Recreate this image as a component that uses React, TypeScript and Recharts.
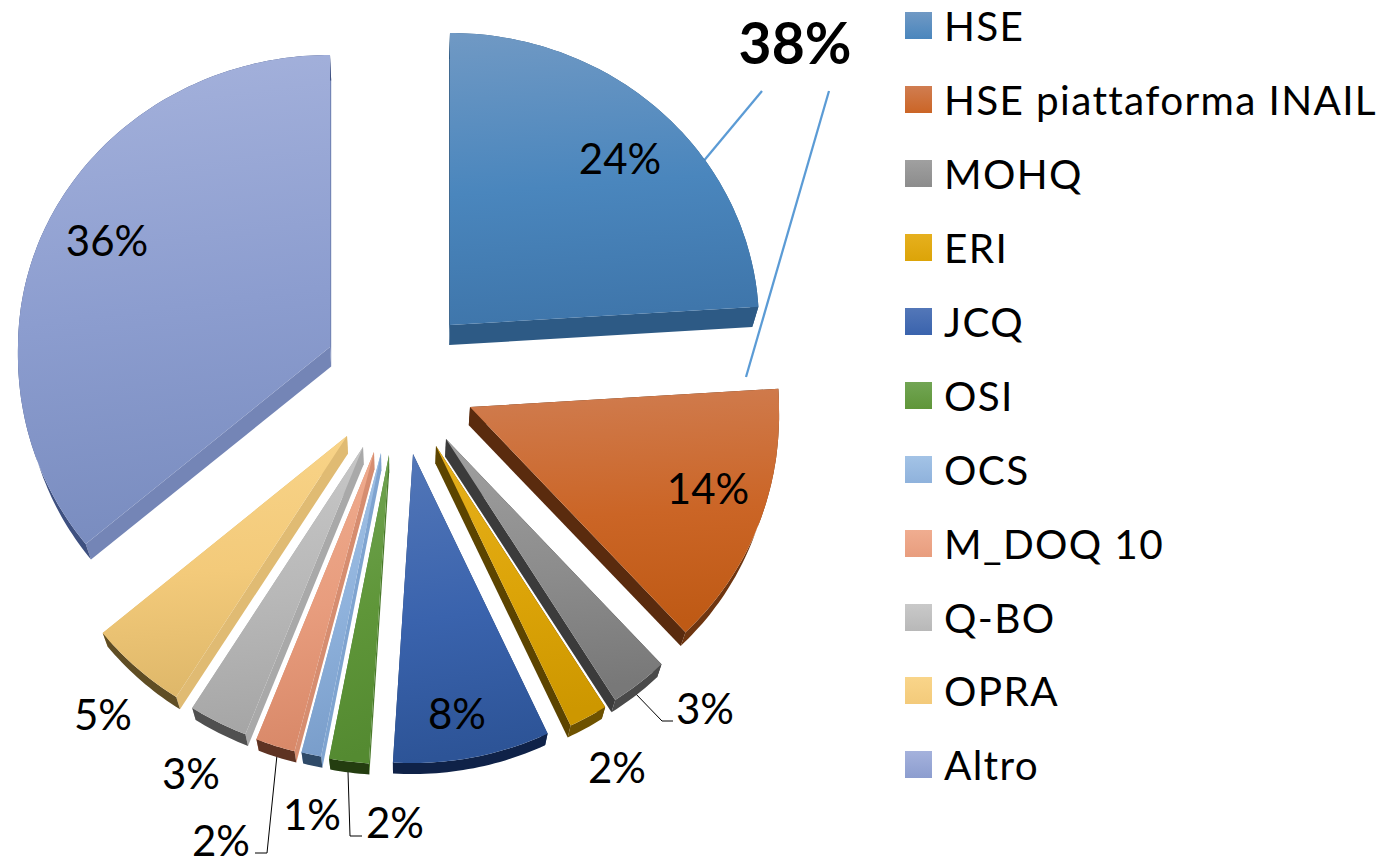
import { Legend, Pie, PieChart } from "recharts";

const names = [
  "HSE",
  "HSE piattaforma INAIL",
  "MOHQ",
  "ERI",
  "JCQ",
  "OSI",
  "OCS",
  "M_DOQ 10",
  "Q-BO",
  "OPRA",
  "Altro",
];
const shares = [24, 14, 3, 2, 8, 2, 1, 2, 3, 5, 36];

// face top, face mid, face bottom, start wall, end wall, arc wall
const palette = [
  ["#7099c4", "#4a86bd", "#3f76ab", "#2d5a85", "#2d5a85", "#2d5a85"],
  ["#d07d51", "#cb6526", "#bf5a15", "#5a2b0e", "#5a2b0e", "#6e3510"],
  ["#a0a0a0", "#8c8c8c", "#787878", "#3b3b3b", "#3b3b3b", "#4a4a4a"],
  ["#e6b01e", "#dca408", "#cd9700", "#5c4400", "#5c4400", "#6e5200"],
  ["#5377b8", "#3a63ad", "#2d5497", "#1f3d70", "#1f3d70", "#0f2248"],
  ["#72a554", "#5f9639", "#548a31", "#4a7a2b", "#4a7a2b", "#243d10"],
  ["#a3c3e6", "#8fb2dc", "#7a9ecb", "#7fa4d0", "#7fa4d0", "#2f4a68"],
  ["#f0ad90", "#e89d7e", "#d98969", "#d68d70", "#d68d70", "#5e3323"],
  ["#c9c9c9", "#b8b8b8", "#a6a6a6", "#a9a9a9", "#a9a9a9", "#505050"],
  ["#f9d58a", "#f3ca7a", "#dfb86a", "#e0bb73", "#e0bb73", "#5f4d24"],
  ["#a5b2dc", "#8c9dcf", "#7a8dc0", "#7485b6", "#7485b6", "#3e5080"],
];

// how far each slice is pulled out of the pie centre
const CX = 393;
const CY = 378;
const explode = [
  [57, -53],
  [77, 29],
  [53, 61],
  [43, 68],
  [20, 76],
  [-4, 77],
  [-12, 75],
  [-19, 74],
  [-30, 69],
  [-46, 58],
  [-63, -31],
];

const labelSpots = [
  [620, 158],
  [708, 488],
  [705, 708],
  [617, 767],
  [457, 713],
  [395, 822],
  [312, 814],
  [221, 840],
  [191, 773],
  [103, 714],
  [107, 240],
];

const leaders = [
  "634,692 662,721 673,721",
  "277,755 267,853 255,853",
  "348,772 350,836 362,836",
];

const FONT = "Lato, 'Open Sans', sans-serif";
const RX = 312;
const RY_BACK = 292;
const RY_FRONT = 309;

// the picture has some perspective: the near half of the pie is a bit bigger
function rim(angle: number) {
  const rad = (angle * Math.PI) / 180;
  const s = Math.sin(rad);
  const c = Math.cos(rad);
  const rx = (c > 0 ? 309 : RX) + 8 * Math.max(0, -s);
  return [rx * c, -s * (s > 0 ? RY_BACK : RY_FRONT)];
}

// the underside of the slab, nearer edges look thinner
function drop(p: number[]) {
  return [p[0] + (400 - p[0]) * 0.017, p[1] + 20 - (p[1] - 325) * 0.0205];
}

function toPath(points: number[][]) {
  return "M" + points.map((p) => `${p[0].toFixed(1)},${p[1].toFixed(1)}`).join("L") + "Z";
}

function Slab(props: any) {
  const { cx, cy, startAngle, endAngle, index } = props;
  const colors = palette[index];
  const ax = cx + explode[index][0];
  const ay = cy + explode[index][1];
  const apex = [ax, ay];

  const arc: number[][] = [];
  const steps = Math.max(2, Math.ceil(Math.abs(endAngle - startAngle)));
  for (let i = 0; i <= steps; i++) {
    const p = rim(startAngle + ((endAngle - startAngle) * i) / steps);
    arc.push([ax + p[0], ay + p[1]]);
  }
  const first = arc[0];
  const last = arc[arc.length - 1];
  const gradientId = `slab-${index}`;

  return (
    <g>
      <defs>
        <linearGradient id={gradientId} x1="0" y1="0" x2="0.08" y2="1">
          <stop offset="0" stopColor={colors[0]} />
          <stop offset="0.55" stopColor={colors[1]} />
          <stop offset="1" stopColor={colors[2]} />
        </linearGradient>
      </defs>
      <path d={toPath([apex, first, drop(first), drop(apex)])} fill={colors[3]} />
      <path d={toPath([apex, last, drop(last), drop(apex)])} fill={colors[4]} />
      <path d={toPath([...arc, ...arc.map(drop).reverse()])} fill={colors[5]} />
      <path d={toPath([apex, ...arc])} fill={`url(#${gradientId})`} />
    </g>
  );
}

function ShareLabel(props: any) {
  const { index, value } = props;
  return (
    <text
      x={labelSpots[index][0]}
      y={labelSpots[index][1]}
      textAnchor="middle"
      dominantBaseline="central"
      fill="#000"
      fontFamily={FONT}
      fontSize={42}
    >
      {value}%
    </text>
  );
}

function LegendList() {
  return (
    <div style={{ fontFamily: FONT, fontSize: 40.5, letterSpacing: 1.35, color: "#000" }}>
      {names.map((name, i) => (
        <div key={name} style={{ display: "flex", alignItems: "center", height: 73.9, whiteSpace: "nowrap" }}>
          <span
            style={{
              width: 27,
              height: 27,
              marginRight: 12,
              background: `linear-gradient(${palette[i][0]}, ${palette[i][1]})`,
            }}
          />
          {name}
        </div>
      ))}
    </div>
  );
}

const rows = names.map((name, i) => ({ name, value: shares[i] }));

export default function App() {
  return (
    <div style={{ position: "absolute", left: 0, top: 0, width: 1384, height: 861 }}>
      <PieChart width={1384} height={861} margin={{ top: 0, right: 0, bottom: 0, left: 0 }}>
        <Pie
          data={rows}
          dataKey="value"
          nameKey="name"
          cx={CX}
          cy={CY}
          outerRadius={RX}
          startAngle={90}
          endAngle={-270}
          stroke="none"
          shape={Slab}
          label={ShareLabel}
          labelLine={false}
          isAnimationActive={false}
        />
        <Legend
          layout="vertical"
          align="right"
          verticalAlign="top"
          content={LegendList}
          wrapperStyle={{ left: 905, top: -11, right: "auto", width: 479 }}
        />
        <g>
          <line x1={702} y1={163} x2={762} y2={91} stroke="#5b9bd5" strokeWidth={2.25} />
          <line x1={746} y1={377} x2={829} y2={91} stroke="#5b9bd5" strokeWidth={2.25} />
          {leaders.map((points) => (
            <polyline key={points} points={points} fill="none" stroke="#000" strokeWidth={1} />
          ))}
          <text x={795} y={64} textAnchor="middle" fontFamily={FONT} fontWeight={700} fontSize={57} fill="#000">
            38%
          </text>
        </g>
      </PieChart>
    </div>
  );
}
